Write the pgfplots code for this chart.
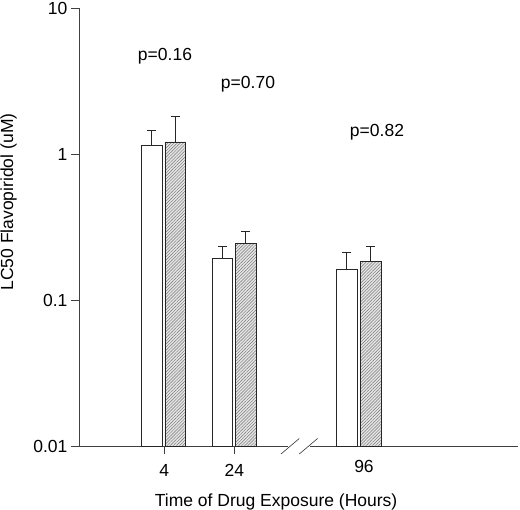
\documentclass[border=0pt]{standalone}
\usepackage{pgfplots}
\pgfplotsset{compat=1.18}
\usepackage{fontspec}
\setmainfont{Liberation Sans}
\usetikzlibrary{patterns.meta}

\pgfplotsset{
    errs/.style={draw=none, mark=none, forget plot,
        error bars/.cd, y dir=plus, y explicit, error mark=-,
        error mark options={rotate=90, black!85, mark size=4.5pt, line width=0.6pt},
        error bar style={black!85, line width=0.6pt}},
}

\begin{document}
\begin{tikzpicture}
\begin{axis}[
    scale only axis,
    width=439pt, height=438pt,
    xmin=0, xmax=439,
    ymode=log, log origin=infty,
    ymin=0.01, ymax=10,
    clip=false,
    axis x line*=bottom, axis y line*=left,
    axis line style={black!75, line width=0.6pt},
    xtick={85.3,155.3}, xticklabels={4,24},
    xticklabel style={yshift=-7pt},
    extra x ticks={285}, extra x tick labels={96},
    extra x tick style={major tick length=0pt, xticklabel style={yshift=-4pt}},
    ytick={0.01,0.1,1,10}, yticklabels={0.01,0.1,1,10},
    yminorticks=false,
    tick align=outside, major tick length=8pt,
    tick style={black!75, line width=0.6pt},
    font=\fontsize{17.5}{20}\selectfont,
    xlabel={Time of Drug Exposure (Hours)},
    ylabel={LC50 Flavopiridol (uM)},
    xlabel style={at={(axis description cs:0.449,-0.139)}, anchor=base},
    ylabel style={at={(axis description cs:-0.1606,0.557)}, anchor=center},
]

% white bars
\addplot[ybar, bar width=20.5, bar shift=0pt, fill=white, draw=black!85, line width=0.6pt]
    coordinates {(72.7,1.15) (143.3,0.193) (267.8,0.162)};
\addplot[errs] coordinates {
    (72.7,1.15) +- (0,0.30)
    (143.3,0.193) +- (0,0.039)
    (267.8,0.162) +- (0,0.050)
};

% hatched bars
\addplot[ybar, bar width=20.5, bar shift=0pt, fill=gray!20, draw=black!85, line width=0.6pt,
    postaction={pattern={Lines[angle=45,distance=2.2pt,line width=0.45pt]}, pattern color=black!55}]
    coordinates {(96.2,1.21) (166.8,0.243) (291.7,0.183)};
\addplot[errs] coordinates {
    (96.2,1.21) +- (0,0.60)
    (166.8,0.243) +- (0,0.051)
    (291.7,0.183) +- (0,0.050)
};

\node at (axis cs:86,4.69) {p=0.16};
\node at (axis cs:169,3.03) {p=0.70};
\node at (axis cs:298,1.415) {p=0.82};

\coordinate (ll) at (rel axis cs:0,0);
\coordinate (ur) at (rel axis cs:1,1);
\coordinate (ga) at (axis cs:209,0.01);
\coordinate (gb) at (axis cs:231,0.01);
\coordinate (s1) at (axis cs:202,0.01);
\coordinate (s2) at (axis cs:220.3,0.01);
\coordinate (s3) at (axis cs:238.6,0.01);
\end{axis}

% axis break
\draw[white, line width=2pt] (ga) -- (gb);
\draw[black!80, line width=0.6pt] ([yshift=-8pt]s1) -- ([yshift=7.5pt]s2);
\draw[black!80, line width=0.6pt] ([yshift=-8pt]s2) -- ([yshift=7.5pt]s3);

\pgfresetboundingbox
\path ([shift={(-79pt,-64pt)}]ll) rectangle ([shift={(2pt,8pt)}]ur);
\end{tikzpicture}
\end{document}
